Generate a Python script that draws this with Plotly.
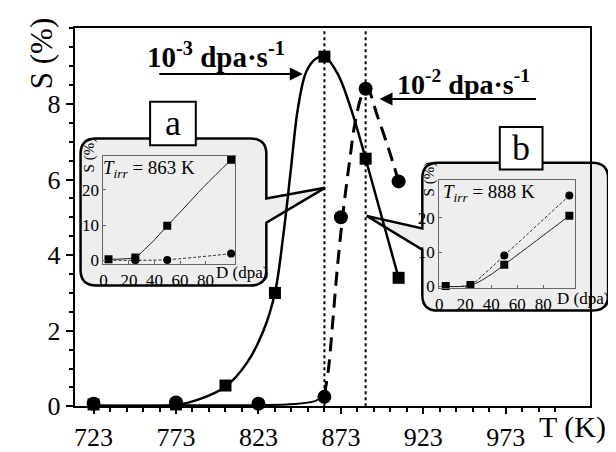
import plotly.graph_objects as go

W, H = 616, 452

# ---------------- data ----------------
# main plot: swelling S (%) vs irradiation temperature T (K)
temp_slow = [723, 773, 803, 833, 863, 888, 908]          # 10^-3 dpa/s (squares)
swell_slow = [0.05, 0.05, 0.55, 3.0, 9.25, 6.55, 3.4]
temp_fast = [723, 773, 823, 863, 873, 888, 908]          # 10^-2 dpa/s (circles)
swell_fast = [0.07, 0.1, 0.07, 0.25, 5.0, 8.4, 5.95]

fit_slow_T = [723, 773, 786, 803, 816, 826, 833, 838, 842.5, 847, 852, 858, 863, 871, 880, 888, 908]
fit_slow_S = [0.02, 0.03, 0.17, 0.52, 1.15, 2.0, 3.0, 4.5, 6.2, 7.9, 8.85, 9.2, 9.25, 8.8, 7.75, 6.55, 3.4]
fit_fast_low_T = [723, 773, 823, 845, 858, 863]
fit_fast_low_S = [0.02, 0.03, 0.03, 0.06, 0.15, 0.3]
fit_fast_T = [863, 865.5, 868, 870.5, 874, 878, 882, 886, 889, 895, 902, 907]
fit_fast_S = [0.3, 1.0, 2.2, 3.5, 5.0, 6.4, 7.6, 8.25, 8.4, 7.7, 6.8, 6.1]

marker_temps = [863, 888]

x_major = [723, 773, 823, 873, 923, 973]
x_minor = [t for t in range(733, 1004, 10) if t not in x_major]
y_major = [0, 2, 4, 6, 8]

# inset a: T_irr = 863 K, S (%) vs dose D (dpa)
a_sq_D = [4, 25, 50, 100]
a_sq_S = [0.3, 0.8, 9.8, 28.5]
a_ci_D = [25, 50, 100]
a_ci_S = [0.0, 0.1, 1.9]
a_fit_sq_D = [4, 15, 25, 32, 40, 50, 61, 79, 100]
a_fit_sq_S = [0.3, 0.4, 0.9, 3.0, 5.8, 9.8, 14.0, 21.0, 28.5]
a_fit_ci_D = [4, 25, 50, 100]
a_fit_ci_S = [0.0, 0.0, 0.2, 1.9]

# inset b: T_irr = 888 K
b_sq_D = [5, 24, 50, 100]
b_sq_S = [0.1, 0.4, 6.3, 20.6]
b_ci_D = [50, 100]
b_ci_S = [9.0, 26.5]
b_fit_sq_D = [5, 24, 38, 50, 100]
b_fit_sq_S = [0.0, 0.3, 3.0, 6.3, 20.6]
b_fit_ci_D = [5, 24, 36, 50, 100]
b_fit_ci_S = [0.0, 0.5, 4.1, 9.0, 26.5]

inset_x_ticks = [0, 20, 40, 60, 80]
inset_y_ticks = [0, 10, 20]

# ---------------- helpers ----------------
FONT = "Liberation Serif, Times New Roman, serif"
BOXFILL = "#eeeeee"


def px(x):
    return x / W


def py(y):
    return 1 - y / H


def P(x, y):
    return f"{px(x):.5f},{py(y):.5f}"


def bubble(x0, y0, x1, y1, r, side, p_top, p_bot, tipx, tipy):
    s = f"M {P(x0 + r, y0)} L {P(x1 - r, y0)} Q {P(x1, y0)} {P(x1, y0 + r)} "
    if side == "right":
        s += f"L {P(x1, p_top)} L {P(tipx, tipy)} L {P(x1, p_bot)} "
    s += f"L {P(x1, y1 - r)} Q {P(x1, y1)} {P(x1 - r, y1)} L {P(x0 + r, y1)} Q {P(x0, y1)} {P(x0, y1 - r)} "
    if side == "left":
        s += f"L {P(x0, p_bot)} L {P(tipx, tipy)} L {P(x0, p_top)} "
    s += f"L {P(x0, y0 + r)} Q {P(x0, y0)} {P(x0 + r, y0)} Z"
    return s


fig = go.Figure()

# ---------------- main traces ----------------
fig.add_trace(go.Scatter(x=fit_slow_T, y=fit_slow_S, mode="lines", line=dict(color="black", width=2.5, shape="spline"),
                         xaxis="x", yaxis="y", showlegend=False, hoverinfo="skip"))
fig.add_trace(go.Scatter(x=fit_fast_low_T, y=fit_fast_low_S, mode="lines", line=dict(color="black", width=2, shape="spline"),
                         xaxis="x", yaxis="y", showlegend=False, hoverinfo="skip"))
fig.add_trace(go.Scatter(x=fit_fast_T, y=fit_fast_S, mode="lines",
                         line=dict(color="black", width=3, shape="spline", dash="14px,8px"),
                         xaxis="x", yaxis="y", showlegend=False, hoverinfo="skip"))
fig.add_trace(go.Scatter(x=temp_slow, y=swell_slow, mode="markers", marker=dict(symbol="square", size=12, color="black"),
                         cliponaxis=False, xaxis="x", yaxis="y", showlegend=False))
fig.add_trace(go.Scatter(x=temp_fast, y=swell_fast, mode="markers", marker=dict(symbol="circle", size=14, color="black"),
                         cliponaxis=False, xaxis="x", yaxis="y", showlegend=False))

# ---------------- inset traces ----------------
for (xa, ya, fsqD, fsqS, fciD, fciS, sqD, sqS, ciD, ciS) in [
    ("x2", "y2", a_fit_sq_D, a_fit_sq_S, a_fit_ci_D, a_fit_ci_S, a_sq_D, a_sq_S, a_ci_D, a_ci_S),
    ("x3", "y3", b_fit_sq_D, b_fit_sq_S, b_fit_ci_D, b_fit_ci_S, b_sq_D, b_sq_S, b_ci_D, b_ci_S),
]:
    fig.add_trace(go.Scatter(x=fsqD, y=fsqS, mode="lines", line=dict(color="#222", width=1, shape="spline"),
                             xaxis=xa, yaxis=ya, showlegend=False, hoverinfo="skip"))
    fig.add_trace(go.Scatter(x=fciD, y=fciS, mode="lines", line=dict(color="#222", width=1, shape="spline", dash="3px,2px"),
                             xaxis=xa, yaxis=ya, showlegend=False, hoverinfo="skip"))
    fig.add_trace(go.Scatter(x=ciD, y=ciS, mode="markers", marker=dict(symbol="circle", size=8, color="black"),
                             cliponaxis=False, xaxis=xa, yaxis=ya, showlegend=False))
    fig.add_trace(go.Scatter(x=sqD, y=sqS, mode="markers", marker=dict(symbol="square", size=8, color="black"),
                             cliponaxis=False, xaxis=xa, yaxis=ya, showlegend=False))

# ---------------- shapes ----------------
shapes = []
shapes.append(dict(type="path", xref="paper", yref="paper", layer="below",
                   path=bubble(69, 135, 256, 287, 16, "right", 197, 222, 315, 186),
                   fillcolor=BOXFILL, line=dict(color="black", width=2.5)))
shapes.append(dict(type="path", xref="paper", yref="paper", layer="below",
                   path=bubble(413, 160, 600, 313, 16, "left", 228, 250, 357, 215),
                   fillcolor=BOXFILL, line=dict(color="black", width=2.5)))
shapes.append(dict(type="rect", xref="paper", yref="paper", layer="below",
                   x0=px(139), x1=px(185), y0=py(142), y1=py(97),
                   fillcolor="white", line=dict(color="black", width=2)))
shapes.append(dict(type="rect", xref="paper", yref="paper", layer="below",
                   x0=px(491), x1=px(534), y0=py(167), y1=py(123),
                   fillcolor="white", line=dict(color="black", width=2)))
for t in marker_temps:
    shapes.append(dict(type="line", xref="x", yref="y", x0=t, x1=t, y0=0, y1=10, layer="above",
                       line=dict(color="black", width=2, dash="dot")))

# ---------------- annotations ----------------
ann = []


def text(x, y, s, size, xanchor="center", yanchor="middle", angle=0, bold=False):
    ann.append(dict(x=px(x), y=py(y), xref="paper", yref="paper", text=(f"<b>{s}</b>" if bold else s),
                    showarrow=False, xanchor=xanchor, yanchor=yanchor, textangle=angle,
                    font=dict(family=FONT, size=size, color="black")))


text(134, 49, "10<sup>-3</sup> dpa·s<sup>-1</sup>", 29, xanchor="left", bold=True)
text(385, 77, "10<sup>-2</sup> dpa·s<sup>-1</sup>", 28, xanchor="left", bold=True)
# arrows
ann.append(dict(x=849.9, y=8.79, xref="x", yref="y", ax=-145, ay=0, text="", showarrow=True,
                arrowhead=2, arrowsize=1.3, arrowwidth=2, arrowcolor="black", standoff=0, startstandoff=0))
ann.append(dict(x=896.4, y=8.13, xref="x", yref="y", ax=158, ay=0, text="", showarrow=True,
                arrowhead=2, arrowsize=1.3, arrowwidth=2, arrowcolor="black", standoff=0, startstandoff=0))

text(564, 433, "T (K)", 30)
text(30, 47, "S (%)", 31, angle=-90)
text(162, 119, "a", 36)
text(512.5, 145, "b", 36)
text(78, 152, "S (%)", 15, angle=-90)
text(420, 177, "S (%)", 15, angle=-90)
text(90, 167, "<i>T</i><sub><i>irr</i></sub> = 863 K", 19, xanchor="left")
text(432, 191, "<i>T</i><sub><i>irr</i></sub> = 888 K", 19, xanchor="left")
text(231, 274, "D (dpa)", 17)
text(575, 300, "D (dpa)", 17)

axis_common = dict(showgrid=False, zeroline=False, showline=True, linecolor="black", mirror=True)
inset_common = dict(showgrid=False, zeroline=False, showline=True, linecolor="#666", linewidth=1, mirror=True,
                    ticks="inside", ticklen=3, tickwidth=1, tickcolor="#666",
                    tickfont=dict(family=FONT, size=17, color="black"))

fig.update_layout(
    width=W, height=H, margin=dict(l=0, r=0, t=0, b=0),
    paper_bgcolor="white", plot_bgcolor="rgba(0,0,0,0)",
    font=dict(family=FONT, color="black"),
    showlegend=False,
    xaxis=dict(domain=[px(63), px(582)], range=[711.5, 1024.2], anchor="y",
               tickmode="array", tickvals=x_major, ticks="outside", ticklen=6, tickwidth=2, tickcolor="black",
               linewidth=2, tickfont=dict(family=FONT, size=26, color="black"),
               minor=dict(tickmode="array", tickvals=x_minor, ticks="outside", ticklen=4, tickwidth=2, tickcolor="black"),
               **axis_common),
    yaxis=dict(domain=[py(412), py(21)], range=[0, 10], anchor="x",
               tickmode="array", tickvals=y_major, ticks="outside", ticklen=7, tickwidth=2, tickcolor="black",
               linewidth=2, tickfont=dict(family=FONT, size=26, color="black"),
               minor=dict(dtick=0.5, ticks="outside", ticklen=4, tickwidth=2, tickcolor="black"),
               **axis_common),
    xaxis2=dict(domain=[px(92), px(224)], range=[0, 102.7], anchor="y2", tickmode="array", tickvals=inset_x_ticks,
                **inset_common),
    yaxis2=dict(domain=[py(265), py(153)], range=[-1.1, 29.6], anchor="x2", tickmode="array", tickvals=inset_y_ticks,
                **inset_common),
    xaxis3=dict(domain=[px(430), px(567)], range=[0, 104.6], anchor="y3", tickmode="array", tickvals=inset_x_ticks,
                **inset_common),
    yaxis3=dict(domain=[py(290), py(178)], range=[-0.6, 31], anchor="x3", tickmode="array", tickvals=inset_y_ticks,
                **inset_common),
    shapes=shapes,
    annotations=ann,
)

fig.write_html("out.html")
